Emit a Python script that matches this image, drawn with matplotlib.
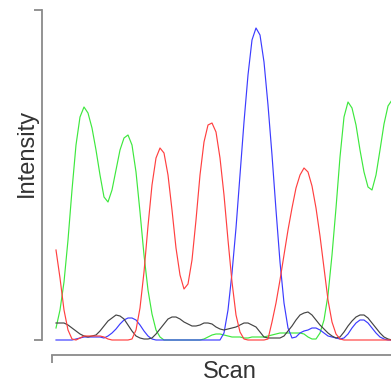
import numpy as np
import matplotlib
matplotlib.use('Agg')
import matplotlib.pyplot as plt

plt.rcParams['font.family'] = ['Liberation Sans', 'DejaVu Sans']

# scan index (one sample every 4 scans of the trace)
scan = np.arange(85)

green = [12, 30, 58, 100, 150, 195, 223, 233, 227, 212, 190, 165, 143, 138, 150, 170,
         190, 202, 205, 195, 168, 128, 85, 50, 26, 10, 3,
         0, 0, 0, 0, 0, 0, 0, 0, 0, 0,
         1, 3, 5, 6, 6, 5, 4, 3, 3, 3, 2, 2, 3, 3, 3, 3, 4, 5, 6, 7,
         7, 7, 7, 7, 7, 6, 3, 1, 1, 7, 20, 45, 85, 132, 183, 223, 238, 232,
         215, 190, 168, 153, 150, 165, 190, 216, 234, 240]

blue = [0, 0, 0, 0, 0, 1, 2, 3, 3, 3, 3, 3, 2, 4, 7, 11, 16, 20, 22, 22, 20, 15, 9, 4, 1,
        0, 0, 0, 0, 0, 0, 0, 0, 0, 0, 0, 0, 0, 0, 0, 0, 0,
        7, 30, 67, 112, 165, 218, 265, 300, 312, 305, 278, 235, 185, 130, 78, 37, 12,
        2, 3, 7, 9, 10, 12, 12, 10, 7, 4, 3, 2, 1, 2, 6, 12, 17, 20, 20, 17, 12, 7,
        3, 1, 0, 0]

red = [90, 62, 30, 10, 1, 0, 2, 4, 4, 4, 4, 4, 3, 1, 0, 0, 0, 0, 0, 1, 10, 32, 68, 114,
       155, 182, 192, 187, 165, 130, 92, 65, 51, 56, 80, 120, 165, 198, 215, 217, 208,
       182, 145, 100, 58, 25, 8, 1, 0, 0, 0, 0, 0, 1, 18, 37, 60, 85, 110, 132, 152,
       165, 172, 168, 154, 132, 104, 72, 40, 18, 6, 1,
       0, 0, 0, 0, 0, 0, 0, 0, 0, 0, 0, 0, 0]

black = [17, 17, 17, 15, 12, 9, 6, 4, 3, 4, 5, 9, 14, 19, 22, 25, 24, 21, 15, 9, 4, 2,
         1, 1, 2, 6, 11, 16, 21, 23, 23, 21, 18, 16, 14, 14, 15, 17, 17, 16, 13, 11, 10,
         11, 12, 13, 15, 17, 17, 15, 13, 8, 3, 2, 2, 2, 2, 4, 9, 14, 20, 25, 27, 28, 25,
         20, 15, 11, 7, 4, 2, 3, 8, 14, 19, 23, 25, 25, 22, 17, 12, 7, 3, 1, 0]

fig = plt.figure(figsize=(3.91, 3.80), dpi=100)
ax = fig.add_axes([52 / 391, 40 / 380, 368 / 391, 330 / 380])

style = dict(lw=0.85, clip_on=False, solid_joinstyle='round')
ax.plot(scan, green, color='#3ee83e', **style)
ax.plot(scan, blue, color='#3c3cff', **style)
ax.plot(scan, black, color='#444444', **style)
ax.plot(scan, red, color='#ff4040', **style)

ax.set_xlim(-1, 91)
ax.set_ylim(0, 330)

for s in ['top', 'right']:
    ax.spines[s].set_visible(False)
ax.spines['left'].set_position(('outward', 7.2))
ax.spines['left'].set_bounds(0, 330)
ax.spines['bottom'].set_position(('outward', 10.8))
for s in ['left', 'bottom']:
    ax.spines[s].set_color('#8a8a8a')
    ax.spines[s].set_linewidth(1.3)

ax.set_yticks([0, 330])
ax.set_xticks([-1])
ax.set_yticklabels([])
ax.set_xticklabels([])
ax.tick_params(length=5.5, width=1.3, color='#8a8a8a', direction='out')

fig.text(27 / 391, 1 - 153 / 380, 'Intensity', rotation=90, ha='center', va='center',
         fontsize=17, color='#333333')
fig.text(230 / 391, 1 - 378 / 380, 'Scan', ha='center', va='baseline',
         fontsize=17, color='#333333')

fig.savefig('out.png', dpi=100)
